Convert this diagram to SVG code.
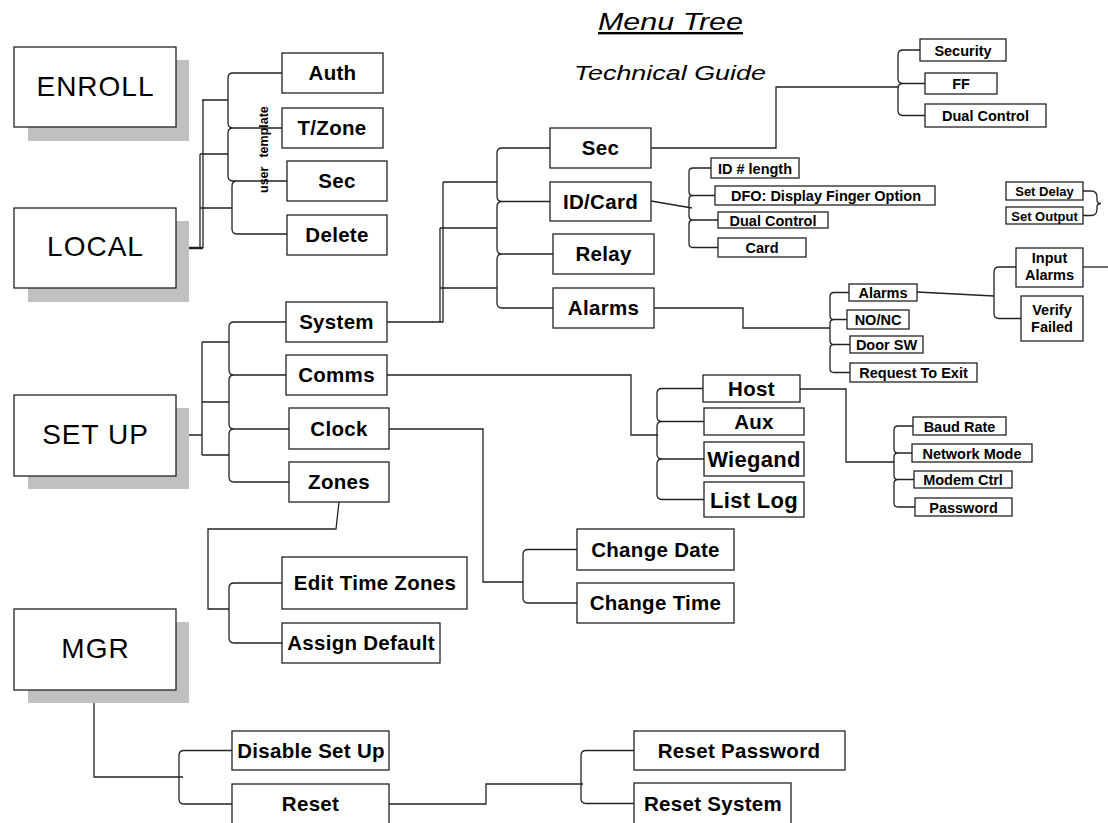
<svg xmlns="http://www.w3.org/2000/svg" width="1108" height="823" viewBox="0 0 1108 823">
<style>
.bg{fill:#fff}
.box{fill:#fff;stroke:#222;stroke-width:1.3}
.shadow{fill:#c0c0c0}
.big{font-family:"Liberation Sans",Arial,sans-serif;font-size:28px;letter-spacing:1px;text-anchor:middle;fill:#000}
.lbl{font-family:"Liberation Sans",Arial,sans-serif;font-weight:bold;font-size:20.5px;letter-spacing:0.3px;text-anchor:middle;fill:#000}
.lg{font-size:22px}
.sm{font-family:"Liberation Sans",Arial,sans-serif;font-weight:bold;font-size:14.5px;text-anchor:middle;fill:#000}
.xs{font-size:13px}
.title{font-family:"Liberation Sans",Arial,sans-serif;font-style:italic;fill:#000}
.rot{font-family:"Liberation Sans",Arial,sans-serif;font-weight:bold;font-size:12.5px;fill:#000}
#connectors path{fill:none;stroke:#222;stroke-width:1.3}
#connectors .thick{stroke-width:2.5}
</style>
<rect class="bg" x="0" y="0" width="1108" height="823"/>

<g id="title">
  <text class="title" x="598" y="30" font-size="24" textLength="145" lengthAdjust="spacingAndGlyphs" text-decoration="underline">Menu Tree</text>
  <text class="title" x="574" y="80" font-size="19.5" textLength="192" lengthAdjust="spacingAndGlyphs">Technical Guide</text>
</g>

<g id="connectors">
  <!-- LOCAL -->
  <path class="thick" d="M176,248 H203"/>
  <path d="M203,248 V100 M200,154 V248 M202,100 H228 M200,154 H228 M200,208 H232"/>
  <path d="M282,73 H233 Q228,73 228,78 V123 Q228,128 233,128 H282 M233,128 Q228,128 228,133 V176 Q228,181 233,181 H287 M237,181 Q232,181 232,186 V229 Q232,234 237,234 H287"/>
  <!-- SET UP -->
  <path d="M176,435 H202 M202,342 V455 M202,342 H229 M202,402 H229 M202,455 H229"/>
  <path d="M286,322 H234 Q229,322 229,327 V370 Q229,375 234,375 H286 M234,375 Q229,375 229,380 V424 Q229,429 234,429 H289 M234,429 Q229,429 229,434 V477 Q229,482 234,482 H289"/>
  <!-- System -->
  <path d="M387,322 H443 V182 M440,228 V322 M443,182 H497 M440,228 H497 M440,288 H497"/>
  <path d="M550,148 H502 Q497,148 497,153 V196.5 Q497,201.5 502,201.5 H550 M502,201.5 Q497,201.5 497,206.5 V249 Q497,254 502,254 H553 M502,254 Q497,254 497,259 V303 Q497,308 502,308 H553"/>
  <!-- Sec -->
  <path d="M651,148 H776 V87 H898"/>
  <path d="M920,50 H903 Q898,50 898,55 V78.5 Q898,83.5 903,83.5 H925 M903,83.5 Q898,83.5 898,88.5 V110.5 Q898,115.5 903,115.5 H925"/>
  <!-- ID/Card -->
  <path d="M651,201 L692,208"/>
  <path d="M711,168 H693 Q689,168 689,172 V191.5 Q689,195.5 693,195.5 H715 M693,195.5 Q689,195.5 689,199.5 V216 Q689,220 693,220 H718 M693,220 Q689,220 689,224 V243.5 Q689,247.5 693,247.5 H718"/>
  <!-- Alarms -->
  <path d="M654,308 H743 V328 H830"/>
  <path d="M849,292.5 H834 Q830,292.5 830,296.5 V315.5 Q830,319.5 834,319.5 H847 M834,319.5 Q830,319.5 830,323.5 V340.5 Q830,344.5 834,344.5 H850 M834,344.5 Q830,344.5 830,348.5 V368.5 Q830,372.5 834,372.5 H850"/>
  <!-- Alarms sub -->
  <path d="M917,292 L994,296"/>
  <path d="M1016,267 H999 Q994,267 994,272 V313.5 Q994,318.5 999,318.5 H1021"/>
  <path d="M1083,267 H1108"/>
  <!-- Set Delay / Set Output -->
  <path d="M1083,191 H1091 Q1097,191 1097,197 V200 Q1097,203.5 1101,203.5 Q1097,203.5 1097,207 V209 Q1097,215.5 1091,215.5 H1083"/>
  <!-- Comms -->
  <path d="M387,375 H631 V435 H658"/>
  <path d="M703,388.5 H662 Q657,388.5 657,393.5 V416.5 Q657,421.5 662,421.5 H704 M662,421.5 Q657,421.5 657,426.5 V454 Q657,459 662,459 H704 M662,459 Q657,459 657,464 V494.5 Q657,499.5 662,499.5 H704"/>
  <!-- Host -->
  <path d="M800,389 H846 V462 H894"/>
  <path d="M913,426 H898 Q894,426 894,430 V449 Q894,453 898,453 H912 M898,453 Q894,453 894,457 V475.5 Q894,479.5 898,479.5 H914 M898,479.5 Q894,479.5 894,483.5 V503 Q894,507 898,507 H915"/>
  <!-- Clock -->
  <path d="M389,429 H483 V582 H523"/>
  <path d="M577,549.5 H528 Q523,549.5 523,554.5 V598 Q523,603 528,603 H577"/>
  <!-- Zones -->
  <path d="M339,502 L336,529 H208 V609 H229"/>
  <path d="M282,583 H234 Q229,583 229,588 V638 Q229,643 234,643 H282"/>
  <!-- MGR -->
  <path d="M94,690 V777 H183"/>
  <path d="M232,750.5 H184 Q179,750.5 179,755.5 V799 Q179,804 184,804 H232"/>
  <!-- Reset -->
  <path d="M389,804 H486 V784 H583"/>
  <path d="M634,750.5 H586 Q581,750.5 581,755.5 V798.5 Q581,803.5 586,803.5 H634"/>
</g>

<g id="enroll"><rect class="shadow" x="28" y="60" width="161" height="81"/><rect class="box" x="14" y="47" width="162" height="80"/><text class="big" x="95.5" y="96">ENROLL</text></g>
<g id="local"><rect class="shadow" x="28" y="221" width="161" height="81"/><rect class="box" x="14" y="208" width="162" height="80"/><text class="big" x="95.5" y="256">LOCAL</text></g>
<g id="setup"><rect class="shadow" x="28" y="408" width="161" height="81"/><rect class="box" x="14" y="395" width="162" height="81"/><text class="big" x="95.5" y="444">SET UP</text></g>
<g id="mgr"><rect class="shadow" x="28" y="622" width="161" height="81"/><rect class="box" x="14" y="609" width="162" height="81"/><text class="big" x="95.5" y="658">MGR</text></g>

<g id="user-template"><text class="rot" transform="translate(268,193) rotate(-90)">user<tspan dx="9">template</tspan></text></g>

<g id="auth"><rect class="box" x="282" y="53" width="101" height="40"/><text class="lbl" x="332.5" y="80">Auth</text></g>
<g id="tzone"><rect class="box" x="282" y="108" width="101" height="40"/><text class="lbl" x="332" y="135">T/Zone</text></g>
<g id="local-sec"><rect class="box" x="287" y="161" width="100" height="40"/><text class="lbl" x="337" y="188">Sec</text></g>
<g id="delete"><rect class="box" x="287" y="215" width="100" height="40"/><text class="lbl" x="337" y="242">Delete</text></g>

<g id="system"><rect class="box" x="286" y="302" width="101" height="40"/><text class="lbl" x="336.5" y="329">System</text></g>
<g id="comms"><rect class="box" x="286" y="355" width="101" height="40"/><text class="lbl" x="336.5" y="382">Comms</text></g>
<g id="clock"><rect class="box" x="289" y="408" width="100" height="41"/><text class="lbl" x="339" y="436">Clock</text></g>
<g id="zones"><rect class="box" x="289" y="462" width="100" height="40"/><text class="lbl" x="339" y="489">Zones</text></g>

<g id="edit-time-zones"><rect class="box" x="282" y="557" width="185" height="52"/><text class="lbl" x="375" y="590">Edit Time Zones</text></g>
<g id="assign-default"><rect class="box" x="282" y="623" width="158" height="40"/><text class="lbl" x="361" y="650">Assign Default</text></g>

<g id="disable-setup"><rect class="box" x="232" y="731" width="157" height="39"/><text class="lbl" x="311" y="758">Disable Set Up</text></g>
<g id="reset"><rect class="box" x="232" y="784" width="157" height="41"/><text class="lbl" x="310.5" y="811">Reset</text></g>
<g id="reset-password"><rect class="box" x="634" y="731" width="211" height="39"/><text class="lbl" x="739" y="758">Reset Password</text></g>
<g id="reset-system"><rect class="box" x="634" y="783" width="157" height="42"/><text class="lbl" x="713" y="811">Reset System</text></g>

<g id="sys-sec"><rect class="box" x="550" y="128" width="101" height="40"/><text class="lbl" x="600.5" y="155">Sec</text></g>
<g id="idcard"><rect class="box" x="550" y="182" width="101" height="39"/><text class="lbl" x="600.5" y="209">ID/Card</text></g>
<g id="relay"><rect class="box" x="553" y="234" width="101" height="40"/><text class="lbl" x="603.5" y="261">Relay</text></g>
<g id="alarms"><rect class="box" x="553" y="288" width="101" height="40"/><text class="lbl" x="603.5" y="315">Alarms</text></g>

<g id="host"><rect class="box" x="703" y="375" width="97" height="27"/><text class="lbl" x="751.5" y="396">Host</text></g>
<g id="aux"><rect class="box" x="704" y="408" width="100" height="27"/><text class="lbl" x="754" y="429">Aux</text></g>
<g id="wiegand"><rect class="box" x="704" y="442" width="100" height="34"/><text class="lbl lg" x="754" y="467">Wiegand</text></g>
<g id="listlog"><rect class="box" x="704" y="482" width="100" height="35"/><text class="lbl lg" x="754" y="507.5">List Log</text></g>

<g id="change-date"><rect class="box" x="577" y="529" width="157" height="41"/><text class="lbl" x="655.5" y="557">Change Date</text></g>
<g id="change-time"><rect class="box" x="577" y="583" width="157" height="40"/><text class="lbl" x="655.5" y="610">Change Time</text></g>

<g id="security"><rect class="box" x="920" y="39" width="86" height="22"/><text class="sm" x="963" y="55.5">Security</text></g>
<g id="ff"><rect class="box" x="925" y="73" width="72" height="21"/><text class="sm" x="961" y="89">FF</text></g>
<g id="sec-dual-control"><rect class="box" x="925" y="104" width="121" height="23"/><text class="sm" x="985.5" y="121">Dual Control</text></g>

<g id="id-length"><rect class="box" x="711" y="158" width="88" height="20"/><text class="sm" x="755" y="173.5">ID # length</text></g>
<g id="dfo"><rect class="box" x="715" y="186" width="220" height="19"/><text class="sm" x="826" y="201">DFO: Display Finger Option</text></g>
<g id="id-dual-control"><rect class="box" x="718" y="212" width="110" height="16"/><text class="sm" x="773" y="225.5">Dual Control</text></g>
<g id="card"><rect class="box" x="718" y="238" width="88" height="19"/><text class="sm" x="762" y="253">Card</text></g>

<g id="set-delay"><rect class="box" x="1006" y="182" width="77" height="18"/><text class="sm xs" x="1044.5" y="196">Set Delay</text></g>
<g id="set-output"><rect class="box" x="1006" y="207" width="77" height="17"/><text class="sm xs" x="1044.5" y="220.5">Set Output</text></g>

<g id="alarms-sub"><rect class="box" x="849" y="284" width="68" height="17"/><text class="sm" x="883" y="298">Alarms</text></g>
<g id="nonc"><rect class="box" x="847" y="310" width="62" height="19"/><text class="sm" x="878" y="325">NO/NC</text></g>
<g id="doorsw"><rect class="box" x="850" y="336" width="73" height="17"/><text class="sm" x="886.5" y="350">Door SW</text></g>
<g id="rte"><rect class="box" x="850" y="363" width="127" height="19"/><text class="sm" x="913.5" y="378">Request To Exit</text></g>

<g id="input-alarms"><rect class="box" x="1016" y="248" width="67" height="39"/><text class="sm" x="1049.5" y="263">Input</text><text class="sm" x="1049.5" y="280">Alarms</text></g>
<g id="verify-failed"><rect class="box" x="1021" y="296" width="62" height="45"/><text class="sm" x="1052" y="315">Verify</text><text class="sm" x="1052" y="332">Failed</text></g>

<g id="baud-rate"><rect class="box" x="913" y="417" width="93" height="18"/><text class="sm" x="959.5" y="431.5">Baud Rate</text></g>
<g id="network-mode"><rect class="box" x="912" y="444" width="120" height="18"/><text class="sm" x="972" y="458.5">Network Mode</text></g>
<g id="modem-ctrl"><rect class="box" x="914" y="471" width="98" height="17"/><text class="sm" x="963" y="485">Modem Ctrl</text></g>
<g id="password"><rect class="box" x="915" y="498" width="97" height="18"/><text class="sm" x="963.5" y="512.5">Password</text></g>
</svg>
